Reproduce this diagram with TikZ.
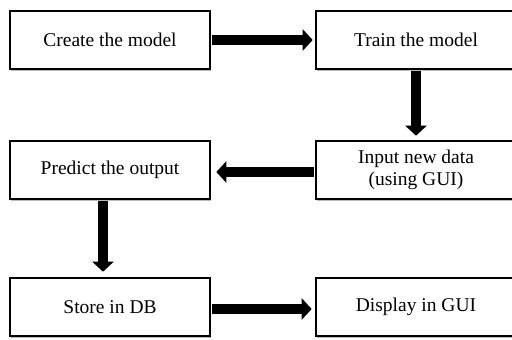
\documentclass[tikz,border=0pt]{standalone}
\usepackage{fontspec}
\setmainfont{Liberation Serif}
\usetikzlibrary{arrows.meta,shadows}
\begin{document}
\begin{tikzpicture}[x=1pt,y=-1pt,
  stepbox/.style={draw=black, line width=2.6pt, fill=white, minimum width=200pt, minimum height=58pt,
    inner sep=0pt, align=center, font=\fontsize{19.5}{22}\selectfont,
    drop shadow={shadow xshift=1pt, shadow yshift=-2pt, fill=black!45, opacity=0.6}},
  bigarrow/.style={line width=10pt, -{Triangle[width=21pt 0 0, length=10pt 0 0]}}
]
\useasboundingbox (0,0) rectangle (512,340);
\node[stepbox] (create) at (110,40) {Create the model};
\node[stepbox] (train) at (416,40) {Train the model};
\node[stepbox] (input) at (416,170) {Input new data\\(using GUI)};
\node[stepbox] (predict) at (110,170) {Predict the output};
\node[stepbox] (store) at (110,307) {Store in DB};
\node[stepbox] (display) at (416,307) {Display in GUI};
\draw[bigarrow, shorten <=1pt, shorten >=2pt] (create.east) -- (train.west);
\draw[bigarrow, shorten <=1pt, shorten >=4pt] (train.south) -- (input.north);
\draw[bigarrow, shorten <=1pt, shorten >=5pt] ([yshift=-2pt]input.west) -- ([yshift=-2pt]predict.east);
\draw[bigarrow, shorten <=1pt, shorten >=5pt] ([xshift=-7pt]predict.south) -- ([xshift=-7pt]store.north);
\draw[bigarrow, shorten <=1pt, shorten >=3pt] ([yshift=-2pt]store.east) -- ([yshift=-2pt]display.west);
\end{tikzpicture}
\end{document}
